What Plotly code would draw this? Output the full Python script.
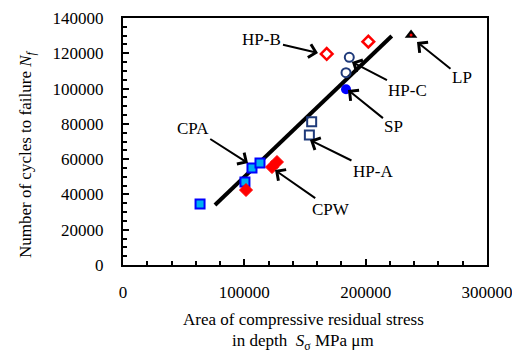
import plotly.graph_objects as go

# ---- data ----
cpa_x = [63500, 100500, 106300, 112900]
cpa_y = [34600, 47000, 55000, 57800]
cpw_x = [101400, 122800, 126900]
cpw_y = [42500, 55500, 58400]
hpa_x = [155500, 153600]
hpa_y = [81200, 73700]
hpb_x = [167900, 202200]
hpb_y = [119600, 126600]
hpc_x = [186500, 183800]
hpc_y = [117700, 109000]
sp_x = [183800]
sp_y = [99600]
lp_x = [237400]
lp_y = [130400]
fit_x = [75800, 221500]
fit_y = [34000, 129800]

x_ticks = [0, 100000, 200000, 300000]
y_ticks = [0, 20000, 40000, 60000, 80000, 100000, 120000, 140000]

# label name, arrow head (data), text offset (px)
labels = [
    ("HP-B", 160700, 120200, -56, -13),
    ("HP-C", 188700, 115100, 56, 29),
    ("LP", 242300, 126400, 45, 36),
    ("SP", 185400, 99200, 46, 37),
    ("CPA", 103000, 57800, -55, -35),
    ("HP-A", 154100, 70800, 63, 31),
    ("CPW", 125300, 53800, 56, 39),
]

FONT = "Liberation Serif"
FS = 17

fig = go.Figure()
fig.add_trace(go.Scatter(x=fit_x, y=fit_y, mode="lines",
                         line=dict(color="black", width=4), showlegend=False))
fig.add_trace(go.Scatter(x=cpa_x, y=cpa_y, mode="markers",
                         marker=dict(symbol="square", size=9, color="#00b0f0",
                                     line=dict(color="#0000ff", width=2)), showlegend=False))
fig.add_trace(go.Scatter(x=cpw_x, y=cpw_y, mode="markers",
                         marker=dict(symbol="diamond", size=10, color="#ff0000",
                                     line=dict(color="#ff0000", width=1)), showlegend=False))
fig.add_trace(go.Scatter(x=hpa_x, y=hpa_y, mode="markers",
                         marker=dict(symbol="square-open", size=9, color="#1f3a7a",
                                     line=dict(color="#1f3a7a", width=2)), showlegend=False))
fig.add_trace(go.Scatter(x=hpb_x, y=hpb_y, mode="markers",
                         marker=dict(symbol="diamond-open", size=9, color="#ff0000",
                                     line=dict(color="#ff0000", width=2.5)), showlegend=False))
fig.add_trace(go.Scatter(x=hpc_x, y=hpc_y, mode="markers",
                         marker=dict(symbol="circle-open", size=9, color="#1f3a7a",
                                     line=dict(color="#1f3a7a", width=2)), showlegend=False))
fig.add_trace(go.Scatter(x=sp_x, y=sp_y, mode="markers",
                         marker=dict(symbol="circle", size=10, color="#0000ff"), showlegend=False))
fig.add_trace(go.Scatter(x=lp_x, y=lp_y, mode="markers",
                         marker=dict(symbol="triangle-up", size=11, color="#000000"), showlegend=False))
fig.add_trace(go.Scatter(x=lp_x, y=lp_y, mode="markers",
                         marker=dict(symbol="circle", size=3, color="#ff0000"), showlegend=False))

for name, hx, hy, ax, ay in labels:
    fig.add_annotation(x=hx, y=hy, xref="x", yref="y", text=name, showarrow=True,
                       ax=ax, ay=ay, arrowhead=4, arrowsize=1.3, arrowwidth=2,
                       arrowcolor="black", font=dict(family=FONT, size=FS, color="black"))

fig.add_annotation(xref="paper", yref="paper", x=(27 - 123) / 364, y=(265 - 154) / 247,
                   xanchor="center", yanchor="middle",
                   text="Number of cycles to failure <i>N</i><sub><i>f</i></sub>",
                   textangle=-90, showarrow=False,
                   font=dict(family=FONT, size=FS, color="black"))
fig.add_annotation(xref="paper", yref="paper", x=(303 - 123) / 364, y=(265 - 319) / 247,
                   xanchor="center", yanchor="middle",
                   text="Area of compressive residual stress", showarrow=False,
                   font=dict(family=FONT, size=FS, color="black"))
fig.add_annotation(xref="paper", yref="paper", x=(303 - 123) / 364, y=(265 - 342) / 247,
                   xanchor="center", yanchor="middle",
                   text="in depth  <i>S</i><sub>σ</sub> MPa μm", showarrow=False,
                   font=dict(family=FONT, size=FS, color="black"))

axis_common = dict(showline=True, linecolor="black", linewidth=2, mirror=True,
                   ticks="inside", tickcolor="black", tickwidth=2, ticklen=6,
                   showgrid=False, zeroline=False, automargin=False,
                   tickfont=dict(family=FONT, size=FS, color="black"))

fig.update_xaxes(range=[0, 300000], tickvals=x_ticks, ticktext=[str(v) for v in x_ticks],
                 ticklabelstandoff=11,
                 minor=dict(dtick=20000, ticks="inside", ticklen=4, tickcolor="black", tickwidth=2),
                 **axis_common)
fig.update_yaxes(range=[0, 140000], tickvals=y_ticks, ticktext=[str(v) for v in y_ticks],
                 ticklabelstandoff=14,
                 minor=dict(dtick=5000, ticks="inside", ticklen=4, tickcolor="black", tickwidth=2),
                 **axis_common)

# page body has an 8px margin at top/left, so the figure is 8px smaller
fig.update_layout(width=512, height=346, margin=dict(l=115, r=33, t=10, b=89),
                  plot_bgcolor="white", paper_bgcolor="white", showlegend=False)

fig.write_html("out.html")
